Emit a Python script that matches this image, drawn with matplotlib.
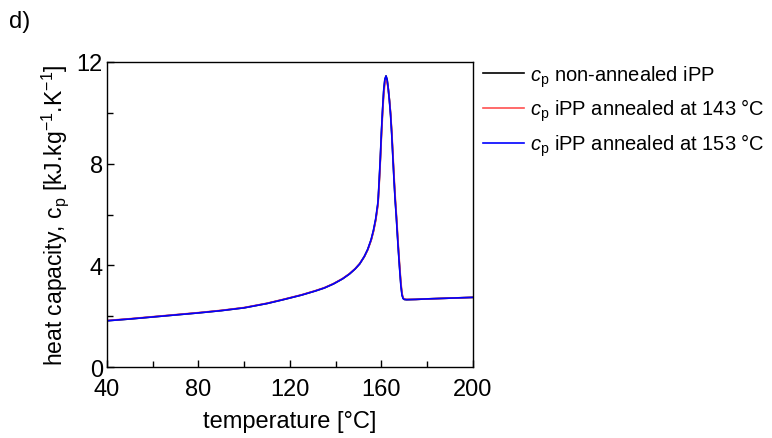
import matplotlib.pyplot as plt
from matplotlib.ticker import MultipleLocator

plt.rcParams['font.family'] = ['Liberation Sans', 'DejaVu Sans']
plt.rcParams['mathtext.fontset'] = 'custom'
plt.rcParams['mathtext.rm'] = 'Liberation Sans'
plt.rcParams['mathtext.it'] = 'Liberation Sans:italic'

# temperature [°C]
temperature = [40, 50, 60, 70, 80, 90, 100, 110, 117, 125, 131, 135, 139, 143,
               146, 148.5, 150.5, 152.5, 154, 155.5, 156.5, 157.5, 158.5, 159,
               159.5, 160, 160.5, 161, 161.5, 162, 162.5, 163, 163.5, 164,
               164.5, 165, 165.5, 166, 166.5, 167, 167.5, 168, 168.5, 169,
               169.5, 170, 171, 175, 180, 190, 200]

# heat capacity [kJ/kg/K]
cp_non_annealed = [1.82, 1.89, 1.97, 2.05, 2.13, 2.22, 2.33, 2.50, 2.65, 2.83,
                   2.99, 3.11, 3.27, 3.47, 3.66, 3.86, 4.06, 4.34, 4.62, 5.00,
                   5.35, 5.80, 6.45, 7.25, 8.15, 9.20, 10.10, 10.85, 11.30,
                   11.45, 11.30, 10.95, 10.50, 9.95, 9.20, 8.30, 7.40, 6.60,
                   5.95, 5.20, 4.50, 3.85, 3.25, 2.85, 2.70, 2.66, 2.65, 2.66,
                   2.68, 2.71, 2.74]
cp_annealed_143 = [1.83, 1.90, 1.98, 2.06, 2.14, 2.23, 2.34, 2.51, 2.66, 2.84,
                   3.00, 3.12, 3.28, 3.48, 3.67, 3.87, 4.07, 4.34, 4.61, 4.98,
                   5.32, 5.76, 6.38, 7.15, 8.05, 9.05, 9.95, 10.70, 11.15,
                   11.30, 11.20, 10.90, 10.50, 10.00, 9.30, 8.45, 7.55, 6.75,
                   6.05, 5.35, 4.60, 3.95, 3.35, 2.90, 2.72, 2.67, 2.66, 2.66,
                   2.68, 2.71, 2.74]
cp_annealed_153 = [1.82, 1.89, 1.97, 2.05, 2.13, 2.22, 2.33, 2.50, 2.65, 2.83,
                   2.99, 3.11, 3.27, 3.47, 3.66, 3.86, 4.06, 4.35, 4.63, 5.02,
                   5.38, 5.84, 6.50, 7.32, 8.22, 9.28, 10.15, 10.90, 11.32,
                   11.45, 11.28, 10.92, 10.45, 9.90, 9.15, 8.25, 7.35, 6.55,
                   5.90, 5.15, 4.45, 3.80, 3.20, 2.82, 2.69, 2.66, 2.65, 2.66,
                   2.68, 2.71, 2.74]

fig = plt.figure(figsize=(7.72, 4.39), dpi=100)
ax = fig.add_axes([0.1386, 0.1617, 0.474, 0.6948])

ax.plot(temperature, cp_non_annealed, color='black', lw=1.2,
        label=r'$c_\mathrm{p}$ non-annealed iPP')
ax.plot(temperature, cp_annealed_143, color='#ff5050', lw=1.2,
        label=r'$c_\mathrm{p}$ iPP annealed at 143 °C')
ax.plot(temperature, cp_annealed_153, color='#0000ff', lw=1.2,
        label=r'$c_\mathrm{p}$ iPP annealed at 153 °C')

ax.set_xlim(40, 200)
ax.set_ylim(0, 12)
ax.xaxis.set_major_locator(MultipleLocator(40))
ax.xaxis.set_minor_locator(MultipleLocator(20))
ax.yaxis.set_major_locator(MultipleLocator(4))
ax.yaxis.set_minor_locator(MultipleLocator(2))
ax.tick_params(which='both', direction='in', labelsize=17, width=1)
ax.tick_params(which='major', length=5)
ax.tick_params(which='minor', length=4)
ax.tick_params(axis='y', pad=3)
ax.tick_params(axis='x', pad=8)
for s in ax.spines.values():
    s.set_linewidth(1.0)

ax.set_xlabel('temperature [°C]', fontsize=17, labelpad=7)
ax.set_ylabel(r'heat capacity, $\mathrm{c}_\mathrm{p}$ [kJ.kg$^{-1}$.K$^{-1}$]',
              fontsize=16.5, labelpad=4)

fig.legend(loc='upper left', bbox_to_anchor=(0.615, 0.872), frameon=False,
           fontsize=14.5, handlelength=2.05, handletextpad=0.3, labelspacing=0.4,
           borderaxespad=0)

fig.text(0.012, 0.95, 'd)', fontsize=17, va='center')

fig.savefig('out.png', dpi=100)
